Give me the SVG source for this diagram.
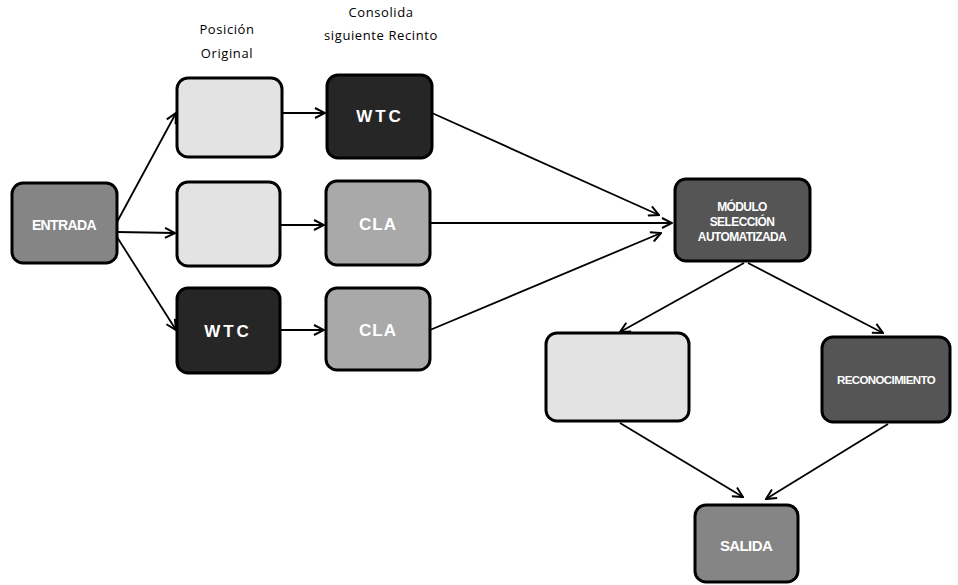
<svg xmlns="http://www.w3.org/2000/svg" width="958" height="585" viewBox="0 0 958 585">
<style>
.box{stroke:#000;stroke-width:3}
.hdr{font-family:"Open Sans","Noto Sans",sans-serif;font-size:13px;fill:#000;text-anchor:middle;letter-spacing:0.6px}
.lbl{font-family:"Liberation Sans",Arial,sans-serif;font-weight:bold;fill:#fff;text-anchor:middle}
.conn{stroke:#000;stroke-width:1.8;fill:none;marker-end:url(#arr)}
.dark{fill:#262626}
.mid{fill:#858585}
.mdark{fill:#555}
.cla{fill:#a9a9a9}
.light{fill:#e3e3e3}
</style>
<defs>
<marker id="arr" viewBox="0 0 12 12" refX="11" refY="6" markerWidth="12" markerHeight="12" markerUnits="userSpaceOnUse" orient="auto">
<path d="M1,1 L11,6 L1,11" fill="none" stroke="#000" stroke-width="2"/>
</marker>
</defs>
<rect width="958" height="585" fill="#fff"/>
<g id="headers">
<text class="hdr" x="227" y="34">Posición</text>
<text class="hdr" x="227" y="58">Original</text>
<text class="hdr" x="381" y="17">Consolida</text>
<text class="hdr" x="381" y="40">siguiente Recinto</text>
</g>
<g id="connectors">
<line class="conn" x1="117" y1="222" x2="176" y2="113"/>
<line class="conn" x1="117" y1="232" x2="175" y2="233"/>
<line class="conn" x1="117" y1="237" x2="176" y2="330"/>
<line class="conn" x1="282" y1="113" x2="325" y2="113"/>
<line class="conn" x1="280" y1="225" x2="324" y2="225"/>
<line class="conn" x1="280" y1="330" x2="324" y2="330"/>
<line class="conn" x1="432" y1="113" x2="659" y2="215"/>
<line class="conn" x1="430" y1="223" x2="672" y2="223"/>
<line class="conn" x1="430" y1="330" x2="661" y2="233"/>
<line class="conn" x1="744" y1="263" x2="620" y2="332"/>
<line class="conn" x1="748" y1="263" x2="883" y2="333"/>
<line class="conn" x1="620" y1="423" x2="743" y2="497"/>
<line class="conn" x1="888" y1="424" x2="766" y2="499"/>
</g>
<g id="entrada">
<rect class="box mid" x="12" y="183" width="105" height="80" rx="11"/>
<text class="lbl" x="64" y="230" font-size="14" letter-spacing="-0.6">ENTRADA</text>
</g>
<g id="orig1">
<rect class="box light" x="177" y="78" width="105" height="79" rx="11"/>
</g>
<g id="orig2">
<rect class="box light" x="177" y="182" width="103" height="84" rx="11"/>
</g>
<g id="orig3">
<rect class="box dark" x="177" y="288" width="103" height="85" rx="11"/>
<text class="lbl" x="228" y="337" font-size="17" letter-spacing="3">WTC</text>
</g>
<g id="cons1">
<rect class="box dark" x="327" y="75" width="105" height="83" rx="11"/>
<text class="lbl" x="380" y="122" font-size="17" letter-spacing="3">WTC</text>
</g>
<g id="cons2">
<rect class="box cla" x="326" y="181" width="104" height="84" rx="11"/>
<text class="lbl" x="378" y="230" font-size="17" letter-spacing="1">CLA</text>
</g>
<g id="cons3">
<rect class="box cla" x="326" y="288" width="104" height="82" rx="11"/>
<text class="lbl" x="378" y="336" font-size="17" letter-spacing="1">CLA</text>
</g>
<g id="modulo">
<rect class="box mdark" x="675" y="179" width="135" height="82" rx="11"/>
<text class="lbl" x="742" y="211" font-size="12" letter-spacing="-0.6">MÓDULO</text>
<text class="lbl" x="742" y="226" font-size="12" letter-spacing="-0.6">SELECCIÓN</text>
<text class="lbl" x="742" y="241" font-size="12" letter-spacing="-0.6">AUTOMATIZADA</text>
</g>
<g id="revision">
<rect class="box light" x="546" y="333" width="143" height="88" rx="11"/>
</g>
<g id="reconocimiento">
<rect class="box mdark" x="822" y="337" width="128" height="85" rx="11"/>
<text class="lbl" x="886" y="384" font-size="11.5" letter-spacing="-0.6">RECONOCIMIENTO</text>
</g>
<g id="salida">
<rect class="box mid" x="695" y="505" width="103" height="77" rx="11"/>
<text class="lbl" x="746" y="551" font-size="15" letter-spacing="-0.6">SALIDA</text>
</g>
</svg>
